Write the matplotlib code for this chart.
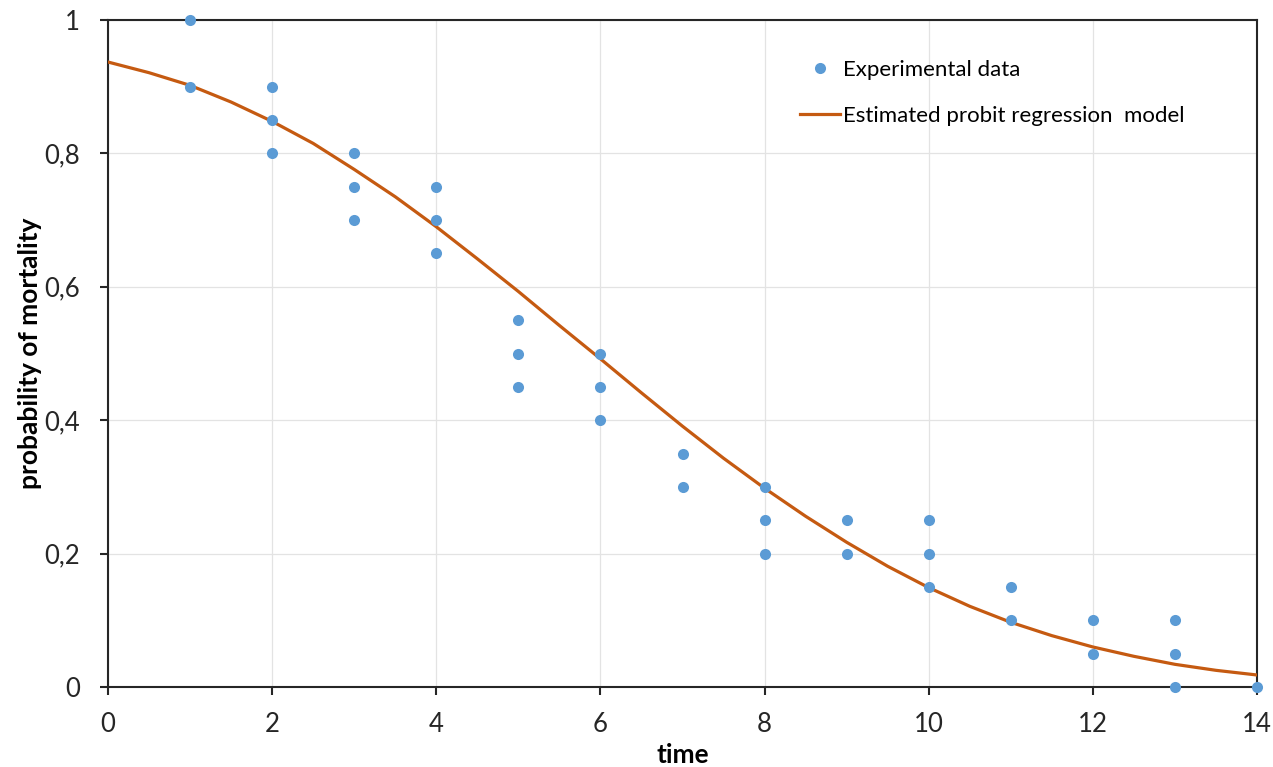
import matplotlib
matplotlib.use("Agg")
import matplotlib.pyplot as plt

# Experimental data (time, probability)
exp_x = [1, 1, 2, 2, 2, 3, 3, 3, 4, 4, 4, 5, 5, 5, 6, 6, 6, 7, 7,
         8, 8, 8, 9, 9, 10, 10, 10, 11, 11, 12, 12, 13, 13, 13, 14]
exp_y = [1.0, 0.9, 0.9, 0.85, 0.8, 0.8, 0.75, 0.7, 0.75, 0.7, 0.65,
         0.55, 0.5, 0.45, 0.5, 0.45, 0.4, 0.35, 0.3,
         0.3, 0.25, 0.2, 0.25, 0.2, 0.25, 0.2, 0.15, 0.15, 0.1,
         0.1, 0.05, 0.1, 0.05, 0.0, 0.0]

# Estimated probit regression curve
fit_x = [0, 0.5, 1, 1.5, 2, 2.5, 3, 3.5, 4, 4.5, 5, 5.5, 6, 6.5, 7,
         7.5, 8, 8.5, 9, 9.5, 10, 10.5, 11, 11.5, 12, 12.5, 13, 13.5, 14]
fit_y = [0.937, 0.921, 0.902, 0.877, 0.848, 0.815, 0.776, 0.735, 0.690,
         0.642, 0.593, 0.542, 0.492, 0.441, 0.391, 0.343, 0.298, 0.256,
         0.217, 0.181, 0.149, 0.121, 0.097, 0.077, 0.060, 0.046, 0.034,
         0.025, 0.018]

xticks = [0, 2, 4, 6, 8, 10, 12, 14]
yticks = [0, 0.2, 0.4, 0.6, 0.8, 1.0]
ytick_labels = ["0", "0,2", "0,4", "0,6", "0,8", "1"]

plt.rcParams['font.family'] = ['Lato', 'DejaVu Sans']

fig = plt.figure(figsize=(12.73, 7.67), dpi=100)
ax = fig.add_axes([108 / 1273, 80 / 767, 1149 / 1273, 667 / 767])

ax.plot(fit_x, fit_y, color='#C55A11', lw=2.3, zorder=3,
        label='Estimated probit regression  model')
ax.plot(exp_x, exp_y, 'o', color='#5B9BD5', ms=8, mec='none', zorder=4,
        clip_on=False, label='Experimental data')

ax.set_xlim(0, 14)
ax.set_ylim(0, 1)
ax.set_xticks(xticks)
ax.set_yticks(yticks)
ax.set_yticklabels(ytick_labels)
ax.grid(True, color='#E3E3E3', lw=0.9)
ax.set_axisbelow(True)
for s in ax.spines.values():
    s.set_color('#262626')
    s.set_linewidth(1.5)
ax.tick_params(axis='both', direction='out', length=6, width=1.5,
               color='#262626', labelsize=18.5, labelcolor='#262626')
ax.tick_params(axis='x', top=False, pad=12)
ax.tick_params(axis='y', right=False, pad=14)

ax.set_xlabel('time', fontsize=19, fontweight='bold', labelpad=4)
ax.set_ylabel('probability of mortality', fontsize=19, fontweight='bold', labelpad=2)

handles, labels = ax.get_legend_handles_labels()
leg = ax.legend(handles[::-1], labels[::-1], loc='upper left',
                bbox_to_anchor=(0.585, 0.97), frameon=False, fontsize=16,
                labelspacing=1.15, handlelength=1.8, handletextpad=0.15)

fig.savefig('out.png', dpi=100)
